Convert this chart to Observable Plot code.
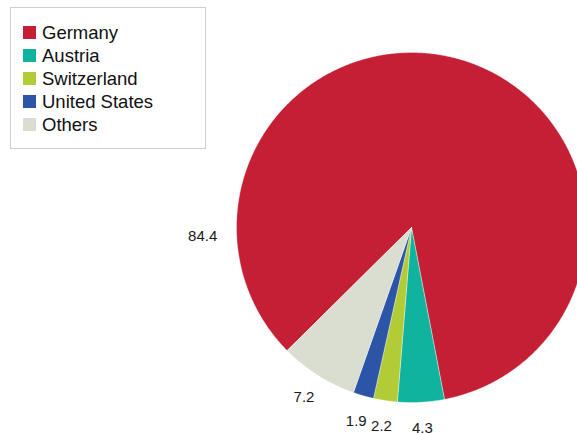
<!DOCTYPE html>
<html>
<head>
<meta charset="utf-8">
<script src="https://cdn.jsdelivr.net/npm/d3@7"></script>
<script src="https://cdn.jsdelivr.net/npm/@observablehq/plot@0.6"></script>
<style>
  html, body { margin: 0; padding: 0; background: #fff; }
  #wrap { position: relative; width: 577px; height: 434px; overflow: hidden; font-family: "Liberation Sans", Arial, sans-serif; }
  #legend { position: absolute; left: 10px; top: 7px; width: 194px; height: 140px; border: 1px solid #cfcfcf; background: #fff; box-sizing: content-box; }
  .item { position: absolute; left: 12px; height: 23px; display: flex; align-items: center; font-size: 18.5px; color: #111; white-space: nowrap; }
  .sw { width: 13px; height: 13px; margin-right: 6px; }
</style>
</head>
<body>
<div id="wrap"><div id="chart"></div><div id="legend"></div></div>
<script>
// Data
const countries = ["Germany", "Austria", "Switzerland", "United States", "Others"];
const shares = [84.4, 4.3, 2.2, 1.9, 7.2];
const colors = ["#c41f34", "#0fb39e", "#b2cc38", "#2d55a7", "#d9ded1"];

const data = countries.map((name, i) => ({name, value: shares[i]}));

// Layout constants (pixels)
const W = 577, H = 434;
const cx = 411, cy = 227, R = 175;
const labelR = 201;
const start = 225.3 * Math.PI / 180;

const arcs = d3.pie().sort(null).value(d => d.value)
  .startAngle(start).endAngle(start + 2 * Math.PI)(data);

// polygon vertices for each slice
const pts = [];
for (const a of arcs) {
  pts.push({name: a.data.name, x: 0, y: 0});
  const n = Math.max(2, Math.ceil((a.endAngle - a.startAngle) / (Math.PI / 360)));
  for (let k = 0; k <= n; k++) {
    const t = a.startAngle + (a.endAngle - a.startAngle) * k / n;
    pts.push({name: a.data.name, x: R * Math.sin(t), y: R * Math.cos(t)});
  }
  pts.push({name: a.data.name, x: 0, y: 0});
}

// labels: mid angle, largest slice label placed on the left side
const labels = arcs.map(a => {
  let t = (a.startAngle + a.endAngle) / 2, r = labelR;
  if (a.data.value > 50) { t = 267.5 * Math.PI / 180; r = 209; }
  return {text: d3.format(".1f")(a.data.value), x: r * Math.sin(t), y: r * Math.cos(t)};
});

const chart = Plot.plot({
  width: W, height: H,
  margin: 0,
  x: {domain: [-cx, W - cx], axis: null},
  y: {domain: [-(H - cy), cy], axis: null},
  color: {domain: countries, range: colors},
  style: {background: "transparent", overflow: "hidden"},
  marks: [
    Plot.line(pts, {x: "x", y: "y", z: "name", fill: "name", stroke: "#ffffff", strokeWidth: 0.6, strokeOpacity: 0.6, curve: "linear-closed"}),
    Plot.text(labels, {x: "x", y: "y", text: "text", fontSize: 15, fill: "#1a1a1a", fontFamily: "Liberation Sans, Arial, sans-serif"})
  ]
});
document.getElementById("chart").appendChild(chart);

// legend
const legend = document.getElementById("legend");
countries.forEach((c, i) => {
  const it = document.createElement("div");
  it.className = "item";
  it.style.top = (13 + i * 23.1) + "px";
  const sw = document.createElement("div");
  sw.className = "sw";
  sw.style.background = colors[i];
  const tx = document.createElement("span");
  tx.textContent = c;
  it.appendChild(sw); it.appendChild(tx);
  legend.appendChild(it);
});
</script>
</body>
</html>
